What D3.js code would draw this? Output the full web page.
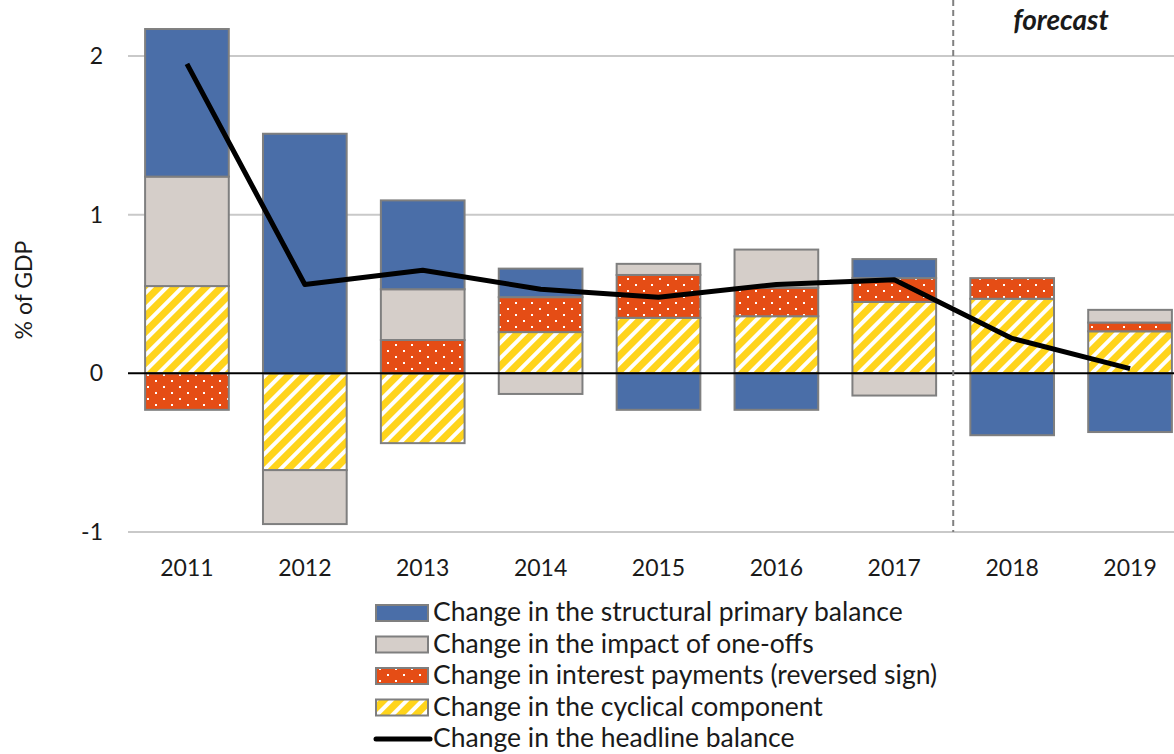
<!DOCTYPE html>
<html>
<head>
<meta charset="utf-8">
<script src="https://cdn.jsdelivr.net/npm/d3@7"></script>
<style>
  body { margin: 0; background: #fff; }
  text { font-family: Lato, "Open Sans", sans-serif; fill: #1a1a1a; }
</style>
</head>
<body>
<svg id="chart" width="1174" height="754"></svg>
<script>
// values (% of GDP)
var years = ["2011", "2012", "2013", "2014", "2015", "2016", "2017", "2018", "2019"];
var structural = [0.93, 1.51, 0.56, 0.18, -0.23, -0.23, 0.12, -0.39, -0.37];
var oneOffs    = [0.69, -0.34, 0.32, -0.13, 0.07, 0.24, -0.14, 0, 0.08];
var interest   = [-0.23, 0, 0.21, 0.22, 0.27, 0.18, 0.15, 0.13, 0.055];
var cyclical   = [0.55, -0.61, -0.44, 0.26, 0.35, 0.36, 0.45, 0.47, 0.265];
var headline   = [1.95, 0.56, 0.65, 0.53, 0.48, 0.56, 0.59, 0.22, 0.03];
var yTicks = [-1, 0, 1, 2];

var legendLabels = [
    "Change in the structural primary balance",
    "Change in the impact of one-offs",
    "Change in interest payments (reversed sign)",
    "Change in the cyclical component",
    "Change in the headline balance"
];

var svg = d3.select("#chart");

// patterns
var defs = svg.append("defs");
var stripes = defs.append("pattern")
    .attr("id", "stripes")
    .attr("patternUnits", "userSpaceOnUse")
    .attr("width", 11).attr("height", 11)
    .attr("patternTransform", "rotate(45)");
stripes.append("rect").attr("width", 11).attr("height", 11).attr("fill", "#ffd41c");
stripes.append("rect").attr("x", 0).attr("width", 4).attr("height", 11).attr("fill", "#fff");

var dots = defs.append("pattern")
    .attr("id", "dots")
    .attr("patternUnits", "userSpaceOnUse")
    .attr("width", 16).attr("height", 12);
dots.append("rect").attr("width", 16).attr("height", 12).attr("fill", "#e54d15");
dots.append("rect").attr("x", 3).attr("y", 2).attr("width", 2).attr("height", 2).attr("fill", "#fff");
dots.append("rect").attr("x", 11).attr("y", 8).attr("width", 2).attr("height", 2).attr("fill", "#fff");

var fills = {
    structural: "#4a6ea8",
    oneOffs: "#d5cec9",
    interest: "url(#dots)",
    cyclical: "url(#stripes)"
};

var xScale = d3.scaleBand().domain(years).range([128, 1189])
    .paddingInner(0.29).paddingOuter(0.145);
var yScale = d3.scaleLinear().domain([-1, 2]).range([532, 56]);

// gridlines
svg.append("g").selectAll("line")
    .data(yTicks.filter(d => d !== 0))
    .enter().append("line")
    .attr("x1", 128).attr("x2", 1174)
    .attr("y1", d => yScale(d)).attr("y2", d => yScale(d))
    .attr("stroke", "#c9c9c9").attr("stroke-width", 2);

// y axis labels
svg.append("g").selectAll("text")
    .data(yTicks)
    .enter().append("text")
    .attr("x", 103)
    .attr("y", d => yScale(d) + 8)
    .attr("text-anchor", "end")
    .style("font-size", "23px")
    .text(d => d);

svg.append("text")
    .attr("transform", "translate(32,290) rotate(-90)")
    .attr("text-anchor", "middle")
    .style("font-size", "23px")
    .text("% of GDP");

// stacked bars, cyclical nearest the zero line
var table = years.map((y, i) => ({
    year: y,
    cyclical: cyclical[i],
    interest: interest[i],
    oneOffs: oneOffs[i],
    structural: structural[i]
}));
var keys = ["cyclical", "interest", "oneOffs", "structural"];
var series = d3.stack().keys(keys).offset(d3.stackOffsetDiverging)(table);

var g = svg.append("g");
series.forEach(s => {
    g.selectAll(".bar-" + s.key)
        .data(s.filter(d => d[1] - d[0] !== 0))
        .enter().append("rect")
        .attr("class", "bar-" + s.key)
        .attr("x", d => xScale(d.data.year))
        .attr("y", d => yScale(d[1]))
        .attr("width", xScale.bandwidth())
        .attr("height", d => yScale(d[0]) - yScale(d[1]))
        .attr("fill", fills[s.key])
        .attr("stroke", "#7f7f7f")
        .attr("stroke-width", 2);
});

// zero line
svg.append("line")
    .attr("x1", 128).attr("x2", 1174)
    .attr("y1", yScale(0)).attr("y2", yScale(0))
    .attr("stroke", "#000").attr("stroke-width", 2);

// forecast separator
var sepX = xScale("2018") - xScale.step() * xScale.paddingInner() / 2;
svg.append("line")
    .attr("x1", sepX).attr("x2", sepX)
    .attr("y1", 0).attr("y2", yScale(-1))
    .attr("stroke", "#808080").attr("stroke-width", 2)
    .attr("stroke-dasharray", "6,4");

svg.append("text")
    .attr("x", 1061).attr("y", 30)
    .attr("text-anchor", "middle")
    .style("font-size", "28px")
    .style("font-weight", "bold")
    .style("font-style", "italic")
    .text("forecast");

// headline balance
var line = d3.line()
    .x((d, i) => xScale(years[i]) + xScale.bandwidth() / 2)
    .y(d => yScale(d));
svg.append("path")
    .datum(headline)
    .attr("d", line)
    .attr("fill", "none")
    .attr("stroke", "#000")
    .attr("stroke-width", 5)
    .attr("stroke-linejoin", "round");

// x labels
svg.append("g").selectAll("text")
    .data(years)
    .enter().append("text")
    .attr("x", d => xScale(d) + xScale.bandwidth() / 2)
    .attr("y", 576)
    .attr("text-anchor", "middle")
    .style("font-size", "23px")
    .text(d => d);

// legend
var legendFills = [fills.structural, fills.oneOffs, fills.interest, fills.cyclical];
var lg = svg.append("g");
legendLabels.forEach((lab, i) => {
    var cy = 613 + i * 31.5;
    if (i < 4) {
        lg.append("rect")
            .attr("x", 376).attr("y", cy - 8)
            .attr("width", 52).attr("height", 16)
            .attr("fill", legendFills[i])
            .attr("stroke", "#7f7f7f").attr("stroke-width", 2);
    } else {
        lg.append("line")
            .attr("x1", 376).attr("x2", 430)
            .attr("y1", cy).attr("y2", cy)
            .attr("stroke", "#000").attr("stroke-width", 5)
            .attr("stroke-linecap", "round");
    }
    lg.append("text")
        .attr("x", 433).attr("y", cy + 8)
        .style("font-size", "26.5px")
        .text(lab);
});
</script>
</body>
</html>
